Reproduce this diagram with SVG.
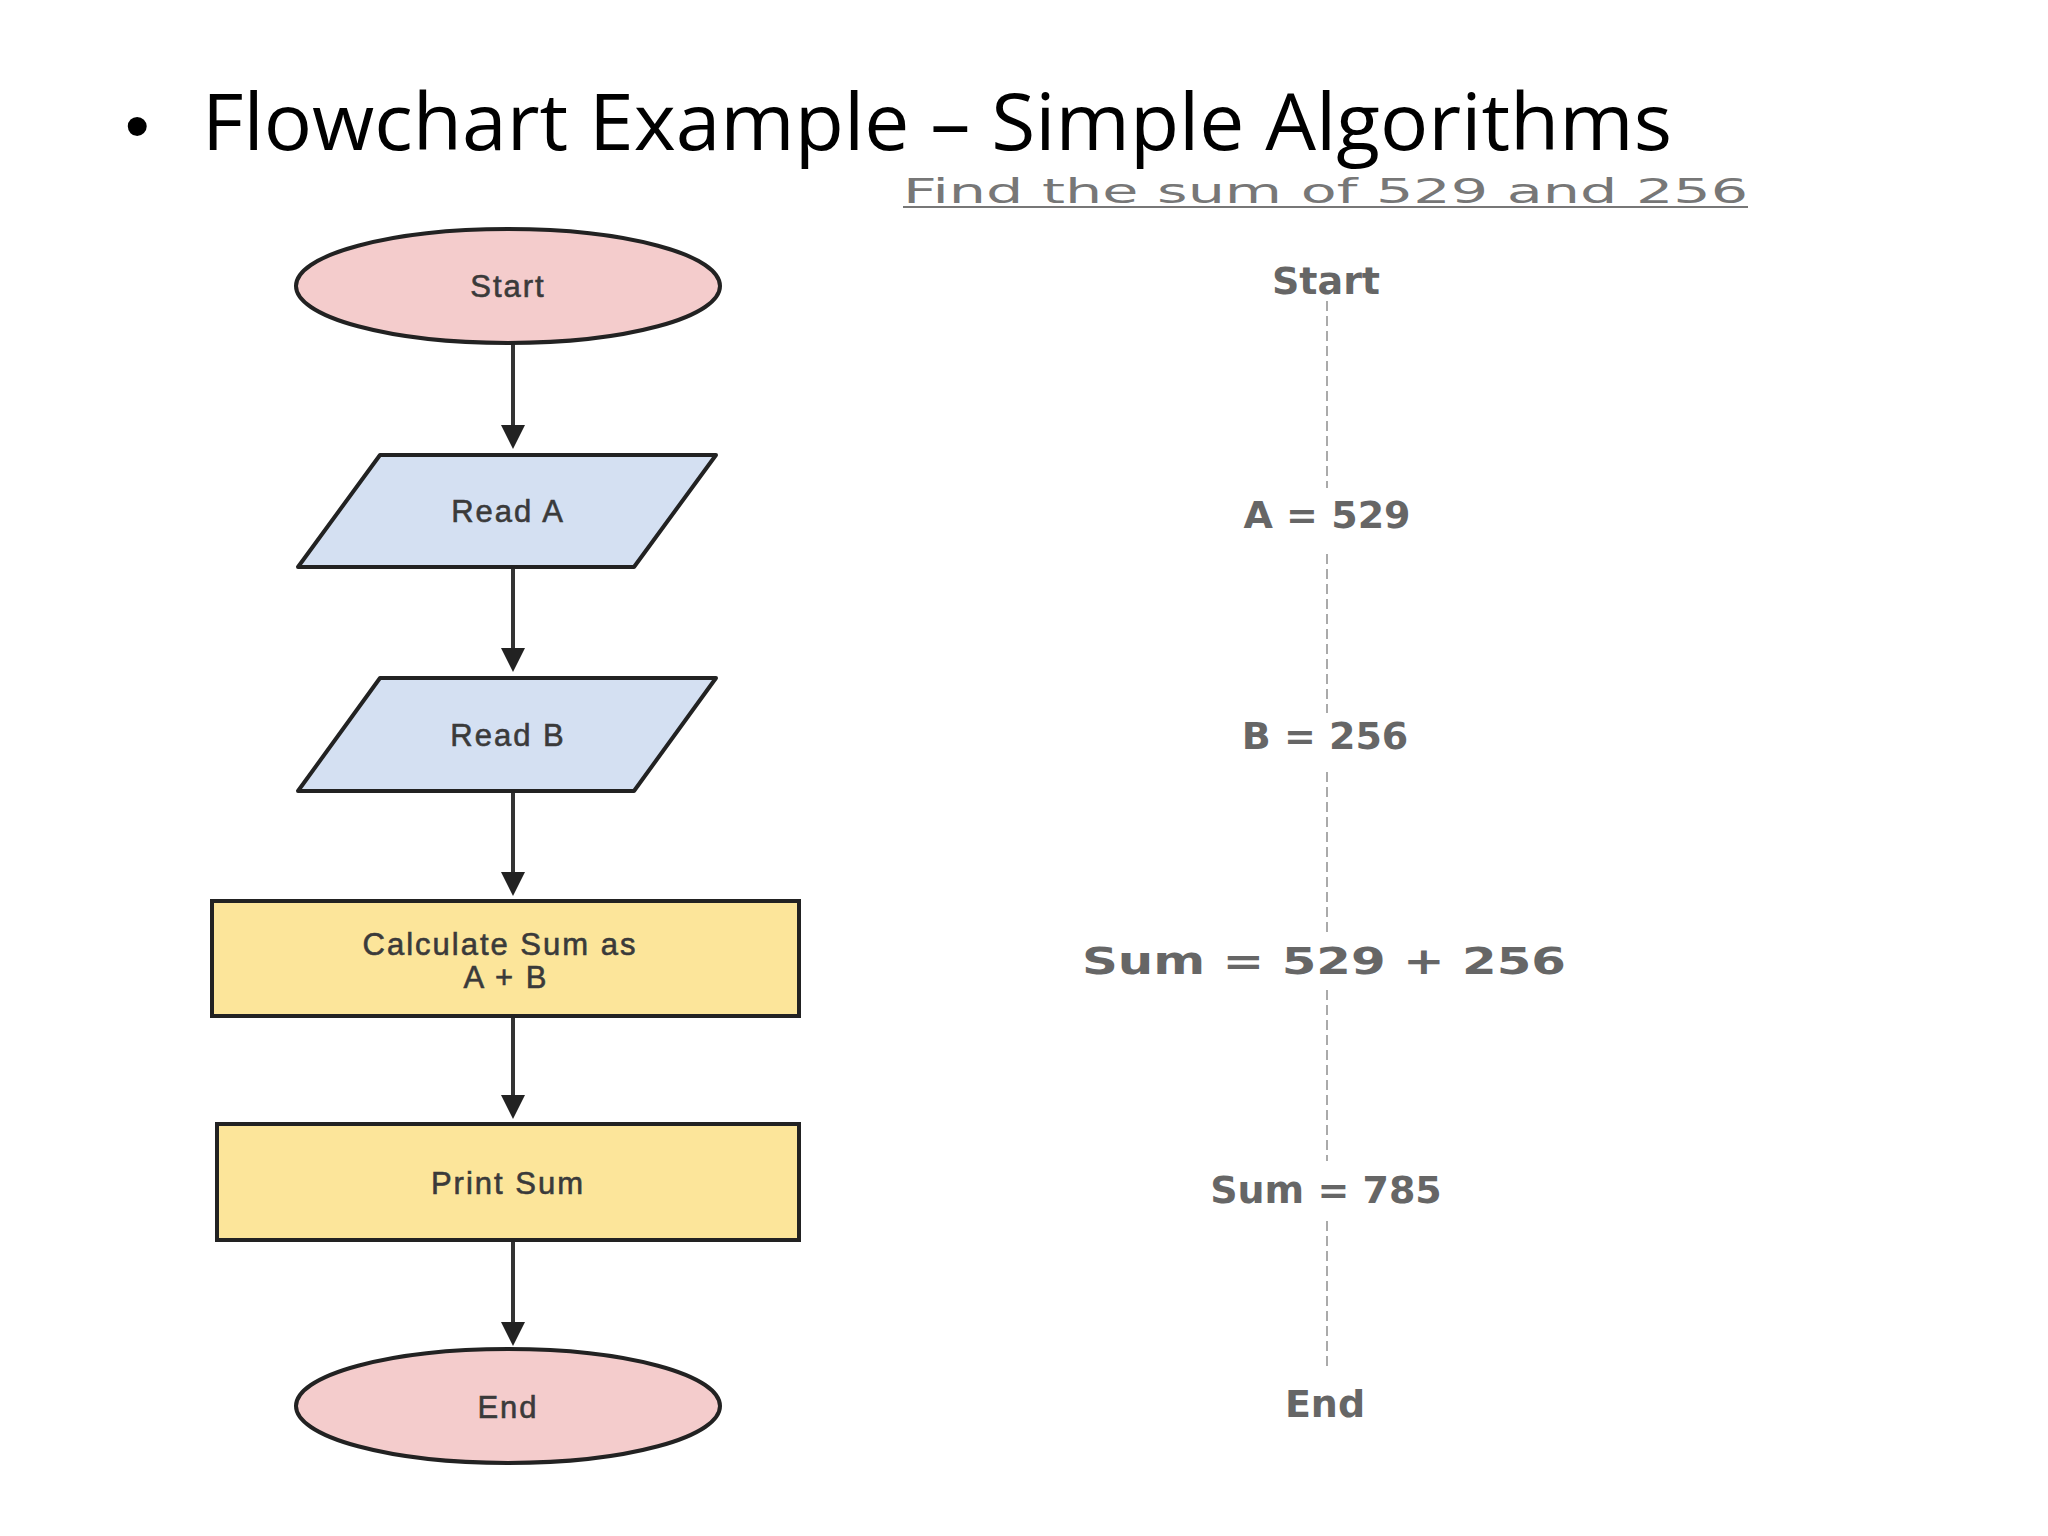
<svg xmlns="http://www.w3.org/2000/svg" width="2048" height="1536" viewBox="0 0 2048 1536">
<style>
.sh{stroke:#222;stroke-width:4}
.lb{font-family:"Liberation Sans",Arial,sans-serif;font-size:31px;fill:#3a3a3a;text-anchor:middle;letter-spacing:2px;stroke:#3a3a3a;stroke-width:0.6}
.rt{font-family:"DejaVu Sans",sans-serif;font-weight:bold;font-size:38px;fill:#666;text-anchor:middle}
.dash{stroke:#aaa;stroke-width:2;stroke-dasharray:10 5;fill:none}
.ar{stroke:#333;stroke-width:4;fill:none;marker-end:url(#ah)}
</style>
<defs><marker id="ah" markerWidth="6" markerHeight="6" refX="5" refY="3" orient="auto"><path d="M0,0 L6,3 L0,6 Z" fill="#222"/></marker></defs>
<rect width="2048" height="1536" fill="#fff"/>
<text x="125" y="150" font-family="Liberation Sans,sans-serif" font-size="70" fill="#000">•</text>
<text x="202" y="150" font-family="Open Sans,Liberation Sans,sans-serif" font-size="78" fill="#000" textLength="1470" lengthAdjust="spacingAndGlyphs">Flowchart Example – Simple Algorithms</text>
<text x="903" y="203" font-family="DejaVu Sans,sans-serif" font-size="34" fill="#777" textLength="845" lengthAdjust="spacingAndGlyphs">Find the sum of 529 and 256</text>
<line x1="903" y1="207" x2="1748" y2="207" stroke="#777" stroke-width="2"/>
<g id="connectors">
<line class="ar" x1="513" y1="344" x2="513" y2="445"/>
<line class="ar" x1="513" y1="567" x2="513" y2="668"/>
<line class="ar" x1="513" y1="791" x2="513" y2="892"/>
<line class="ar" x1="513" y1="1016" x2="513" y2="1115"/>
<line class="ar" x1="513" y1="1240" x2="513" y2="1342"/>
</g>
<g id="start"><ellipse class="sh" cx="508" cy="286" rx="212" ry="57" fill="#f4cccc"/><text class="lb" x="508" y="297">Start</text></g>
<g id="readA"><path class="sh" d="M380,455 L716,455 L634,567 L298,567 Z" fill="#d4e0f2" stroke-linejoin="round"/><text class="lb" x="508" y="522">Read A</text></g>
<g id="readB"><path class="sh" d="M380,678 L716,678 L634,791 L298,791 Z" fill="#d4e0f2" stroke-linejoin="round"/><text class="lb" x="508" y="746">Read B</text></g>
<g id="calc"><rect class="sh" x="212" y="901" width="587" height="115" fill="#fce59a"/><text class="lb" x="500" y="955">Calculate Sum as</text><text class="lb" x="506" y="988">A + B</text></g>
<g id="print"><rect class="sh" x="217" y="1124" width="582" height="116" fill="#fce59a"/><text class="lb" x="508" y="1194">Print Sum</text></g>
<g id="end"><ellipse class="sh" cx="508" cy="1406" rx="212" ry="57" fill="#f4cccc"/><text class="lb" x="508" y="1418">End</text></g>
<g id="trace">
<path class="dash" d="M1327,301V488M1327,554V713M1327,772V937M1327,990V1161M1327,1221V1366"/>
<text class="rt" x="1326" y="294">Start</text>
<text class="rt" x="1327" y="528">A = 529</text>
<text class="rt" x="1325" y="749">B = 256</text>
<text class="rt" x="1324" y="974" textLength="484" lengthAdjust="spacingAndGlyphs">Sum = 529 + 256</text>
<text class="rt" x="1326" y="1203">Sum = 785</text>
<text class="rt" x="1325" y="1417">End</text>
</g>
</svg>
